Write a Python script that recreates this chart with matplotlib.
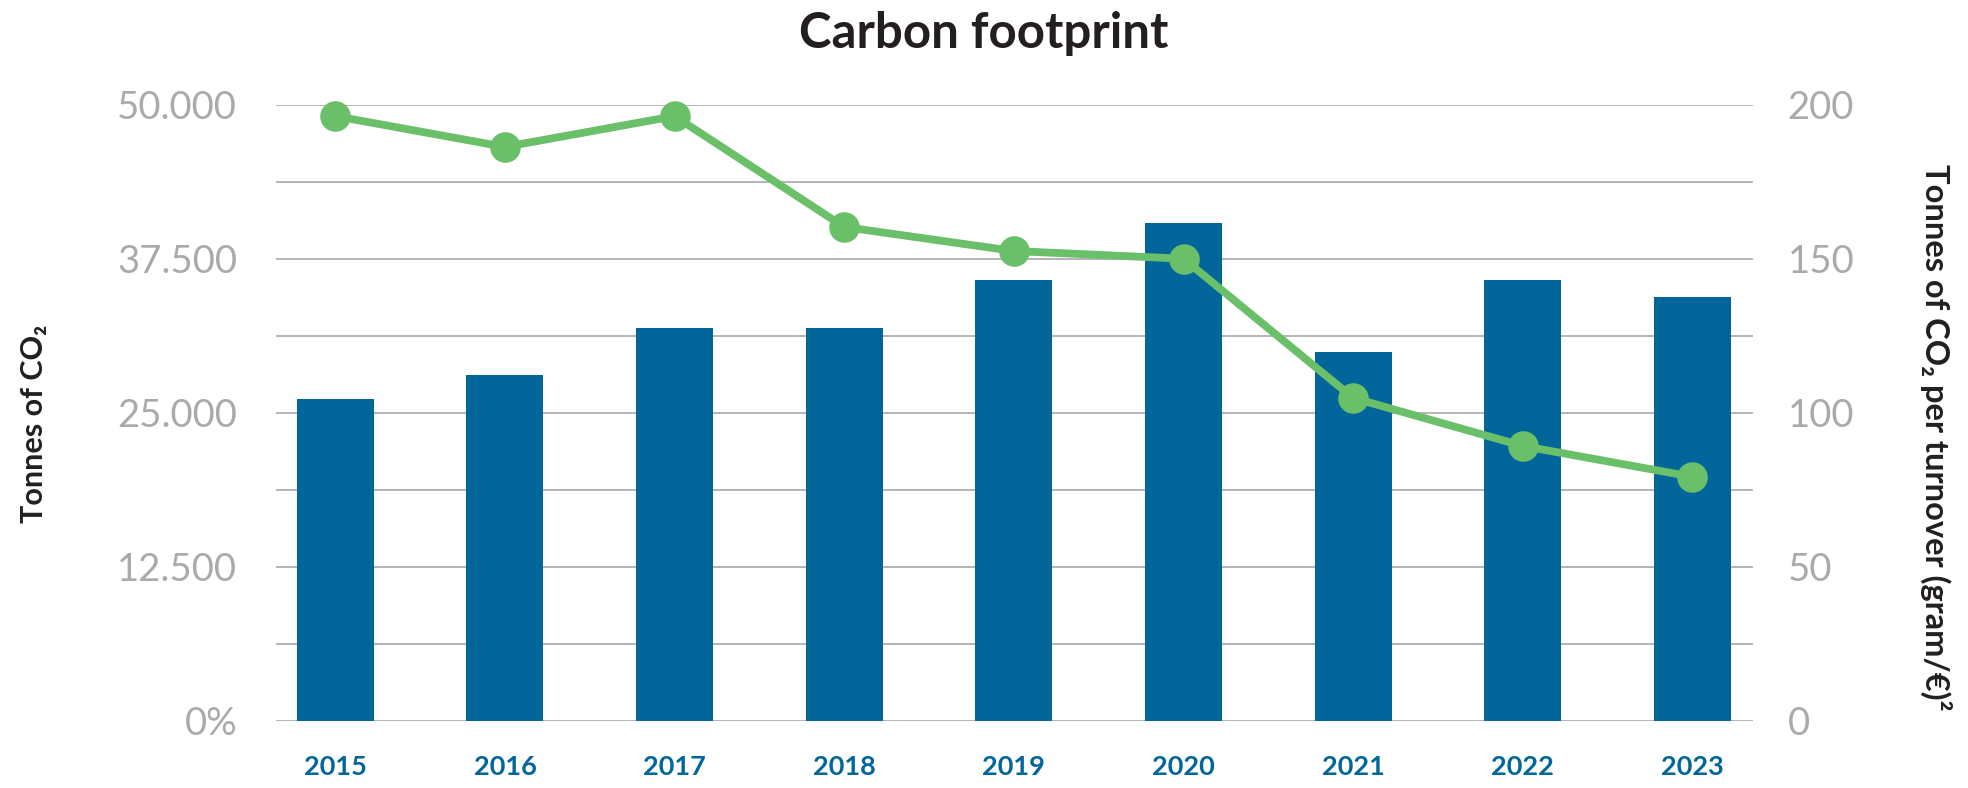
import matplotlib
matplotlib.use("Agg")
import matplotlib.pyplot as plt
import numpy as np

# Data
years = ["2015", "2016", "2017", "2018", "2019", "2020", "2021", "2022", "2023"]
tonnes_co2 = [26100, 28050, 31900, 31900, 35800, 40400, 29900, 35800, 34400]
co2_per_turnover = [196.3, 186.3, 196.3, 160.3, 152.5, 150.0, 104.8, 89.2, 79.2]

left_ticks = [0, 6250, 12500, 18750, 25000, 31250, 37500, 43750, 50000]
left_tick_labels = ["0%", "", "12.500", "", "25.000", "", "37.500", "", "50.000"]
right_ticks = [0, 50, 100, 150, 200]
right_tick_labels = ["0", "50", "100", "150", "200"]

title = "Carbon footprint"
left_label = "Tonnes of CO\u2082"
right_label = "Tonnes of CO\u2082 per turnover (gram/\u20ac)\u00b2"

# Styling
BAR_BLUE = "#02669A"
LINE_GREEN = "#6ABF69"
GRID_GREY = "#A7A8AB"
TICK_GREY = "#A9AAAD"
DARK = "#231F20"
FAMILY = ["Lato", "DejaVu Sans"]

plt.rcParams["font.family"] = FAMILY

fig = plt.figure(figsize=(19.68, 7.88), dpi=100)
ax = fig.add_axes([0.1402, 0.0854, 0.7504, 0.7817])
ax2 = ax.twinx()

x = np.arange(len(years))
ax.bar(x, tonnes_co2, width=0.454, color=BAR_BLUE, zorder=2)
ax.set_xlim(-0.35, len(years) - 1 + 0.355)
ax.set_ylim(0, 50000)
ax.set_yticks(left_ticks)
ax.set_yticklabels(left_tick_labels)
ax.set_xticks(x)
ax.set_xticklabels(years)
ax.grid(axis="y", color=GRID_GREY, linewidth=1.2, zorder=0)
ax.set_axisbelow(True)

for t in ax.get_yticklabels():
    t.set_color(TICK_GREY)
    t.set_fontsize(27.5)
    t.set_fontweight("normal")
for t in ax.get_xticklabels():
    t.set_color(BAR_BLUE)
    t.set_fontsize(19.5)
    t.set_fontweight("bold")
ax.tick_params(axis="y", length=0, pad=28)
ax.tick_params(axis="x", length=0, pad=25)

ax2.plot(x, co2_per_turnover, color=LINE_GREEN, linewidth=5.6,
         marker="o", markersize=21, clip_on=False, zorder=3)
ax2.set_ylim(0, 200)
ax2.set_yticks(right_ticks)
ax2.set_yticklabels(right_tick_labels)
for t in ax2.get_yticklabels():
    t.set_color(TICK_GREY)
    t.set_fontsize(27.5)
    t.set_fontweight("normal")
ax2.tick_params(axis="y", length=0, pad=25)

for a in (ax, ax2):
    for s in a.spines.values():
        s.set_visible(False)

fig.text(0.5, 0.939, title, ha="center", va="baseline",
         fontsize=35.5, fontweight="bold", color=DARK)
fig.text(0.0175, 0.462, left_label, rotation=90, ha="center", va="center",
         fontsize=22, fontweight="bold", color=DARK)
fig.text(0.984, 0.445, right_label, rotation=270, ha="center", va="center",
         fontsize=23.5, fontweight="bold", color=DARK)

fig.savefig("out.png", dpi=100)
